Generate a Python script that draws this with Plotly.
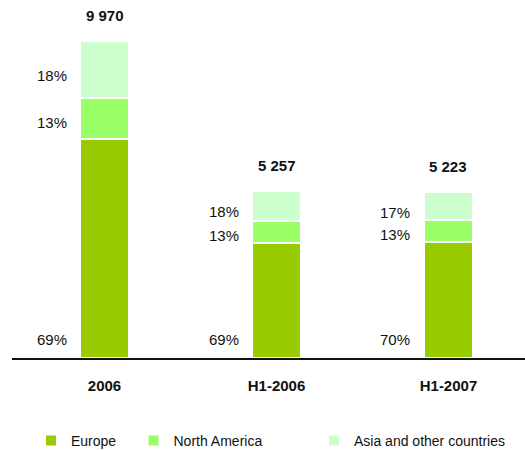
import plotly.graph_objects as go

categories = ["2006", "H1-2006", "H1-2007"]
totals = [9970, 5257, 5223]
total_labels = ["9 970", "5 257", "5 223"]
europe_pct = [69, 69, 70]
na_pct = [13, 13, 13]
asia_pct = [18, 18, 17]

series_names = ["Europe", "North America", "Asia and other countries"]
colors = ["#99CC00", "#99FF66", "#CCFFCC"]

FONT = "Liberation Sans Narrow, Liberation Sans, Arial, sans-serif"

pcts = [europe_pct, na_pct, asia_pct]
vals = [[t * p[i] / 100 for i, t in enumerate(totals)] for p in pcts]
xidx = list(range(len(categories)))

fig = go.Figure()
legends = ["legend", "legend2", "legend3"]
for k in range(3):
    fig.add_trace(go.Bar(
        x=xidx, y=vals[k], name=series_names[k],
        marker=dict(color=colors[k], line=dict(color="white", width=2)),
        width=0.285, legend=legends[k], hoverinfo="skip",
    ))

ann = []
for i in xidx:
    ann.append(dict(x=i, y=totals[i], text="<b>%s</b>" % total_labels[i], showarrow=False,
                    yanchor="bottom", yshift=15, font=dict(size=15, color="#111")))
    ann.append(dict(x=i, y=0, text="%d%%" % europe_pct[i], showarrow=False,
                    xanchor="right", yanchor="bottom", xshift=-36, yshift=8,
                    font=dict(size=15, color="#111")))
    base = vals[0][i]
    ann.append(dict(x=i, y=base + vals[1][i] / 2, text="%d%%" % na_pct[i], showarrow=False,
                    xanchor="right", xshift=-36, yshift=-4, font=dict(size=15, color="#111")))
    base2 = base + vals[1][i]
    ann.append(dict(x=i, y=base2 + vals[2][i] / 2, text="%d%%" % asia_pct[i], showarrow=False,
                    xanchor="right", xshift=-36, yshift=-6, font=dict(size=15, color="#111")))

leg_common = dict(orientation="h", xref="container", yref="container", yanchor="top",
                  xanchor="left", font=dict(size=14, color="#111", family=FONT),
                  bgcolor="rgba(0,0,0,0)")

fig.update_layout(
    width=525, height=450,
    margin=dict(l=12, r=0, t=0, b=92, autoexpand=False),
    paper_bgcolor="white", plot_bgcolor="white",
    barmode="stack", bargap=0,
    font=dict(family=FONT, color="#111"),
    xaxis=dict(range=[-0.538, 2.445], showgrid=False, zeroline=False,
               tickmode="array", tickvals=xidx, ticktext=categories,
               showline=True, linecolor="#111", linewidth=1.5, layer="below traces",
               ticks="", ticklabelstandoff=13,
               tickfont=dict(size=15, color="#111", family=FONT, weight="bold")),
    yaxis=dict(range=[0, 11259], visible=False),
    annotations=ann,
    showlegend=True,
    legend=dict(x=31 / 525, y=(450 - 425) / 450, **leg_common),
    legend2=dict(x=133.5 / 525, y=(450 - 425) / 450, **leg_common),
    legend3=dict(x=314 / 525, y=(450 - 425) / 450, **leg_common),
)

fig.write_html("out.html", config={"displayModeBar": False},
               post_script="document.body.style.margin='0';")
